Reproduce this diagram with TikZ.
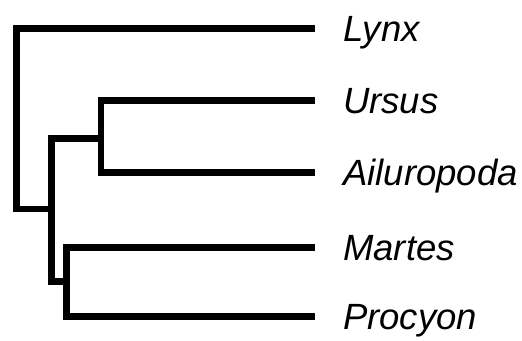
\documentclass[tikz,border=0pt]{standalone}
\usepackage{fontspec}
\setmainfont{Liberation Sans}
\usepackage{tikz}

\tikzset{
    branch/.style={line width=6.7pt, line join=miter, line cap=butt},
    taxon/.style={anchor=west, inner xsep=28pt, inner ysep=0pt,
        text height=26pt, text depth=0pt,
        font=\fontsize{36.5}{40}\selectfont\itshape}
}

\begin{document}
\begin{tikzpicture}[x=1pt,y=-1pt]
        \useasboundingbox (0,0) rectangle (522,340);

        % Taxa
        \path
            (315,28.5)  node[taxon] (lynx) {Lynx}
            (315,100.5) node[taxon] (ursus) {Ursus}
            (315,172.5) node[taxon] (ailuropoda) {Ailuropoda}
            (315,247.3) node[taxon] (martes) {Martes}
            (315,316.7) node[taxon] (procyon) {Procyon};

        % Internal nodes
        \coordinate (root) at (16.7,209);
        \coordinate (carn) at (51.7,209);
        \coordinate (bears) at (101,138.3);
        \coordinate (musteloid) at (66.7,281.7);

        \draw[branch] (lynx.west) -| (root) -- (carn);
        \draw[branch] (bears) -| (carn) |- (musteloid);
        \draw[branch] (ursus.west) -| (bears) |- (ailuropoda.west);
        \draw[branch] (martes.west) -| (musteloid) |- (procyon.west);
    \end{tikzpicture}
\end{document}
